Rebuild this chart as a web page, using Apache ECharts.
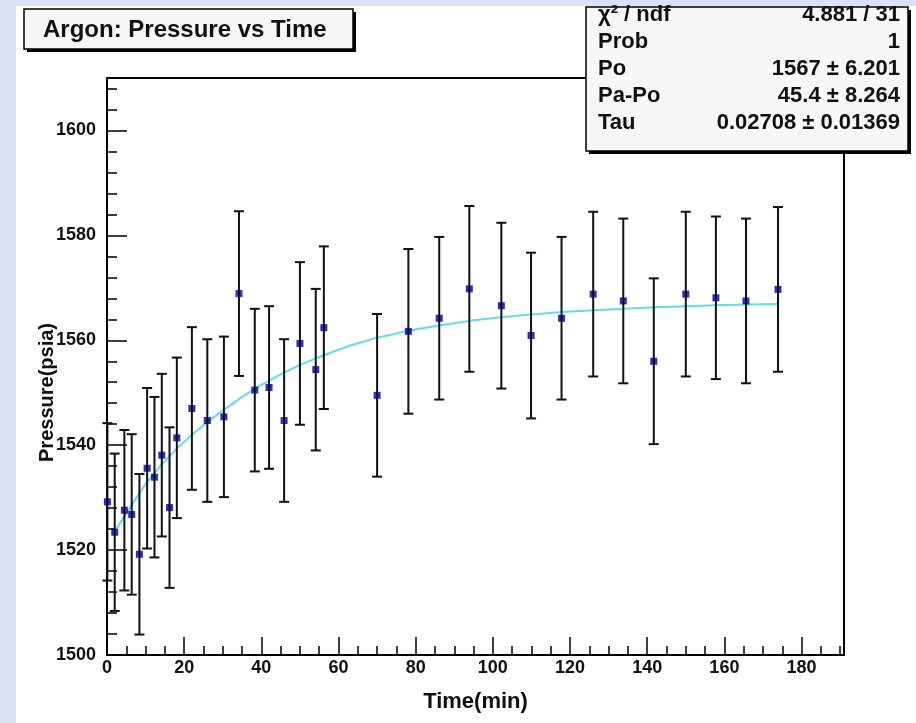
<!DOCTYPE html>
<html style="height: 100%">
<head>
  <meta charset="utf-8">
  <script src="https://cdn.jsdelivr.net/npm/echarts@6/dist/echarts.min.js"></script>
</head>
<body style="height: 100%; width: 100%; margin: 0; background: #fff">
<div id="chart" style="width: 916px; height: 723px"></div>
<script type="text/javascript">
var time = [0.1, 2.0, 4.5, 6.4, 8.4, 10.4, 12.3, 14.2, 16.2, 18.1, 22.0, 26.0, 30.3, 34.2, 38.3, 42.0, 45.9,
            50.0, 54.1, 56.2, 70.0, 78.1, 86.1, 93.9, 102.2, 109.9, 117.8, 126.0, 133.8, 141.7, 150.0, 157.8, 165.6, 173.9];
var pressure = [1529.2, 1523.4, 1527.6, 1526.8, 1519.2, 1535.6, 1533.9, 1538.1, 1528.1, 1541.4, 1547.0, 1544.7, 1545.4, 1568.9, 1550.5, 1551.0, 1544.7,
                1559.4, 1554.4, 1562.4, 1549.5, 1561.7, 1564.2, 1569.8, 1566.6, 1560.9, 1564.2, 1568.8, 1567.5, 1556.0, 1568.8, 1568.1, 1567.5, 1569.7];
var pressureErr = [15.0, 15.0, 15.3, 15.3, 15.3, 15.3, 15.3, 15.5, 15.3, 15.3, 15.5, 15.5, 15.3, 15.7, 15.5, 15.5, 15.5,
                   15.5, 15.4, 15.5, 15.5, 15.7, 15.5, 15.8, 15.8, 15.8, 15.5, 15.7, 15.7, 15.8, 15.7, 15.5, 15.7, 15.7];

// fitted curve
var fitTime = [1.5, 5, 10, 14, 18, 22, 26, 30, 35, 40, 45, 50, 56, 63, 70, 78, 86, 94, 102, 110, 118, 126, 134, 142, 150, 158, 166, 174];
var fitPressure = [1523.0, 1527.0, 1532.6, 1536.2, 1539.3, 1542.0, 1544.4, 1546.6, 1549.2, 1551.5, 1553.5, 1555.3, 1557.1, 1559.0, 1560.5,
                   1561.8, 1562.8, 1563.7, 1564.4, 1564.9, 1565.4, 1565.7, 1566.0, 1566.3, 1566.5, 1566.7, 1566.8, 1566.9];

// fit box text
var statNames = ['\u03c7\u00b2 / ndf', 'Prob', 'Po', 'Pa-Po', 'Tau'];
var statValues = ['4.881 / 31', '1', '1567 \u00b1 6.201', '45.4 \u00b1 8.264', '0.02708 \u00b1 0.01369'];

var chart = echarts.init(document.getElementById('chart'));
var FONT = "'Liberation Sans', Arial, sans-serif";

var points = [], bars = [], fit = [];
for (var i = 0; i < time.length; i++) {
  points.push([time[i], pressure[i]]);
  bars.push([time[i], pressure[i] - pressureErr[i], pressure[i] + pressureErr[i]]);
}
for (var i = 0; i < fitTime.length; i++) {
  fit.push([fitTime[i], fitPressure[i]]);
}

function renderErr(params, api) {
  var lo = api.coord([api.value(0), api.value(1)]);
  var hi = api.coord([api.value(0), api.value(2)]);
  var c = 5;
  var st = { stroke: '#111', lineWidth: 2 };
  return {
    type: 'group',
    children: [
      { type: 'line', shape: { x1: hi[0], y1: hi[1], x2: lo[0], y2: lo[1] }, style: st },
      { type: 'line', shape: { x1: hi[0] - c, y1: hi[1], x2: hi[0] + c, y2: hi[1] }, style: st },
      { type: 'line', shape: { x1: lo[0] - c, y1: lo[1], x2: lo[0] + c, y2: lo[1] }, style: st }
    ]
  };
}

var graphics = [
  // light blue page strips
  { type: 'rect', shape: { x: 0, y: 0, width: 16, height: 723 }, style: { fill: '#d6e4f3' }, z: 0 },
  { type: 'rect', shape: { x: 0, y: 0, width: 916, height: 6 }, style: { fill: '#d6e4f3' }, z: 0 },
  // title box
  { type: 'rect', shape: { x: 27, y: 12, width: 329, height: 40 }, style: { fill: '#000' }, z: 10 },
  { type: 'rect', shape: { x: 24, y: 9, width: 329, height: 40 }, style: { fill: '#f7f7f7', stroke: '#000', lineWidth: 1.5 }, z: 11 },
  { type: 'text', x: 43, y: 30, z: 12,
    style: { text: 'Argon: Pressure vs Time', font: 'bold 24px ' + FONT, fill: '#111', verticalAlign: 'middle', textVerticalAlign: 'middle' } },
  // stats box
  { type: 'rect', shape: { x: 589, y: 10, width: 322, height: 144 }, style: { fill: '#000' }, z: 10 },
  { type: 'rect', shape: { x: 586, y: 7, width: 322, height: 144 }, style: { fill: '#f7f7f7', stroke: '#000', lineWidth: 1.5 }, z: 11 }
];
for (var i = 0; i < statNames.length; i++) {
  graphics.push({ type: 'text', x: 598, y: 15 + i * 27, z: 12,
    style: { text: statNames[i], font: 'bold 22px ' + FONT, fill: '#111', verticalAlign: 'middle', textVerticalAlign: 'middle' } });
  graphics.push({ type: 'text', x: 900, y: 15 + i * 27, z: 12,
    style: { text: statValues[i], font: 'bold 22px ' + FONT, fill: '#111', align: 'right', textAlign: 'right',
             verticalAlign: 'middle', textVerticalAlign: 'middle' } });
}

var option = {
  backgroundColor: '#fff',
  animation: false,
  grid: { left: 107, right: 72, top: 78, bottom: 68, show: true, borderColor: '#000', borderWidth: 2, backgroundColor: '#fff' },
  xAxis: {
    type: 'value', min: 0, max: 191, interval: 20,
    name: 'Time(min)', nameLocation: 'middle', nameGap: 36,
    nameTextStyle: { color: '#111', fontFamily: FONT, fontWeight: 'bold', fontSize: 22 },
    axisLine: { lineStyle: { color: '#000', width: 2 } },
    axisTick: { inside: true, length: 18, lineStyle: { color: '#000', width: 1.5 } },
    minorTick: { show: true, splitNumber: 4, length: 9, lineStyle: { color: '#000', width: 1.5 } },
    axisLabel: { color: '#111', fontFamily: FONT, fontWeight: 'bold', fontSize: 18, margin: 4, showMaxLabel: false },
    splitLine: { show: false }
  },
  yAxis: {
    type: 'value', min: 1500, max: 1610, interval: 20,
    name: 'Pressure(psia)', nameLocation: 'middle', nameGap: 50, nameRotate: 90, nameMoveOverlap: false,
    nameTextStyle: { color: '#111', fontFamily: FONT, fontWeight: 'bold', fontSize: 20, padding: [0, 52, 0, 0] },
    axisLine: { lineStyle: { color: '#000', width: 2 } },
    axisTick: { inside: true, length: 20, lineStyle: { color: '#000', width: 1.5 } },
    minorTick: { show: true, splitNumber: 5, length: 10, lineStyle: { color: '#000', width: 1.5 } },
    axisLabel: { color: '#111', fontFamily: FONT, fontWeight: 'bold', fontSize: 18, margin: 11, showMaxLabel: false,
                 formatter: function (v) { return String(v); } },
    splitLine: { show: false }
  },
  series: [
    { type: 'line', data: fit, smooth: false, showSymbol: false,
      lineStyle: { color: '#62dde8', width: 2 }, z: 2 },
    { type: 'custom', data: bars, renderItem: renderErr, z: 3 },
    { type: 'scatter', data: points, symbol: 'rect', symbolSize: 7,
      itemStyle: { color: '#000080' }, z: 4 }
  ],
  graphic: graphics
};
chart.setOption(option);
</script>
</body>
</html>
